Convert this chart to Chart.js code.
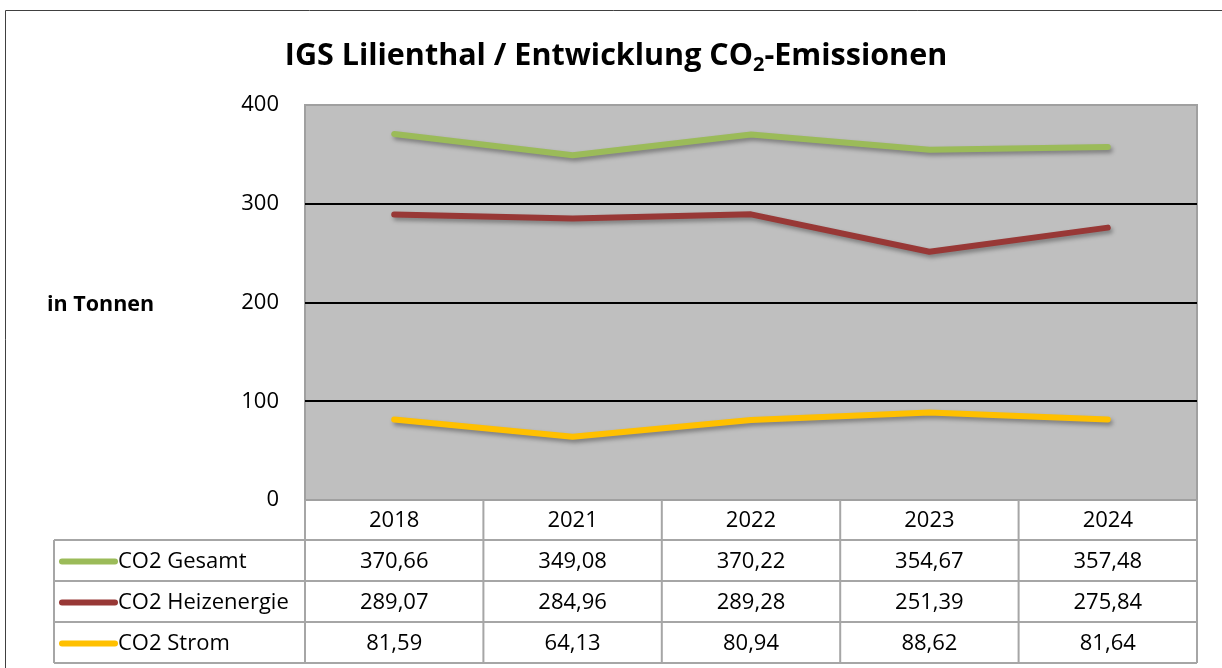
<!DOCTYPE html>
<html>
<head>
<meta charset="utf-8">
<script src="https://cdn.jsdelivr.net/npm/chart.js@4.4.1/dist/chart.umd.min.js"></script>
<style>
  html, body { margin: 0; padding: 0; background: #fff; }
  #wrap { position: relative; width: 1222px; height: 668px; }
</style>
</head>
<body>
<div id="wrap"><canvas id="co2Chart" width="1222" height="668"></canvas></div>
<script>
/* IGS Lilienthal – CO2 per year, values in tonnes */
const years = ['2018', '2021', '2022', '2023', '2024'];
const gesamt = [370.66, 349.08, 370.22, 354.67, 357.48];
const heizenergie = [289.07, 284.96, 289.28, 251.39, 275.84];
const strom = [81.59, 64.13, 80.94, 88.62, 81.64];
const yTicks = [0, 100, 200, 300, 400];

const FONT = '"Open Sans", "Noto Sans", sans-serif';

const seriesNames = ['CO2 Gesamt', 'CO2 Heizenergie', 'CO2 Strom'];
const seriesColors = ['#9BBB59', '#983836', '#FFC000'];
const seriesData = [gesamt, heizenergie, strom];

// frame, title, plot background, y label
const backdrop = {
  id: 'backdrop',
  beforeDraw(chart) {
    const { ctx, chartArea: a } = chart;
    ctx.save();
    ctx.fillStyle = '#fff';
    ctx.fillRect(0, 0, chart.width, chart.height);
    // outer frame
    ctx.strokeStyle = '#404040';
    ctx.lineWidth = 1;
    ctx.beginPath();
    ctx.moveTo(5.5, 668);
    ctx.lineTo(5.5, 10.5);
    ctx.lineTo(1222, 10.5);
    ctx.stroke();
    // plot area
    ctx.fillStyle = '#BFBFBF';
    ctx.fillRect(a.left, a.top, a.right - a.left, a.bottom - a.top);
    ctx.strokeStyle = '#A0A0A0';
    ctx.lineWidth = 2;
    ctx.strokeRect(a.left, a.top, a.right - a.left, a.bottom - a.top);

    // title with subscript 2
    ctx.fillStyle = '#000';
    ctx.textBaseline = 'alphabetic';
    const big = 'bold 30.5px ' + FONT, small = 'bold 20px ' + FONT;
    const p1 = 'IGS Lilienthal / Entwicklung CO', p2 = '2', p3 = '-Emissionen';
    ctx.font = big; const w1 = ctx.measureText(p1).width, w3 = ctx.measureText(p3).width;
    ctx.font = small; const w2 = ctx.measureText(p2).width;
    let x = 616 - (w1 + w2 + w3) / 2;
    const base = 65;
    ctx.font = big; ctx.textAlign = 'left';
    ctx.fillText(p1, x, base); x += w1;
    ctx.font = small; ctx.fillText(p2, x, base + 6); x += w2;
    ctx.font = big; ctx.fillText(p3, x, base);

    // axis title
    ctx.font = 'bold 21.5px ' + FONT;
    ctx.textBaseline = 'middle';
    ctx.fillText('in Tonnen', 47, 305);
    ctx.restore();
  },
  beforeDatasetsDraw(chart) {
    const ctx = chart.ctx;
    ctx.save();
    ctx.shadowColor = 'rgba(0,0,0,0.35)';
    ctx.shadowBlur = 4;
    ctx.shadowOffsetX = 2;
    ctx.shadowOffsetY = 3;
  },
  afterDatasetsDraw(chart) {
    chart.ctx.restore();
  }
};

// Excel-like data table under the plot
const dataTable = {
  id: 'dataTable',
  afterDraw(chart) {
    const { ctx, chartArea: a } = chart;
    const xs = chart.scales.x;
    const colW = (a.right - a.left) / years.length;
    const rowTops = [a.bottom, 540, 581, 622, 663];
    const tableLeft = 54;
    ctx.save();
    ctx.strokeStyle = '#A6A6A6';
    ctx.lineWidth = 2;
    ctx.beginPath();
    for (let r = 1; r < rowTops.length; r++) {
      ctx.moveTo(tableLeft, rowTops[r]);
      ctx.lineTo(a.right, rowTops[r]);
    }
    for (let c = 0; c <= years.length; c++) {
      const x = a.left + c * colW;
      ctx.moveTo(x, a.bottom);
      ctx.lineTo(x, rowTops[4]);
    }
    ctx.moveTo(tableLeft, rowTops[1]);
    ctx.lineTo(tableLeft, rowTops[4]);
    ctx.stroke();

    ctx.fillStyle = '#000';
    ctx.font = '22px ' + FONT;
    ctx.textBaseline = 'middle';
    ctx.textAlign = 'center';
    years.forEach((yr, i) => {
      ctx.fillText(yr, xs.getPixelForValue(i), (rowTops[0] + rowTops[1]) / 2 + 1);
    });
    seriesData.forEach((vals, s) => {
      const cy = (rowTops[s + 1] + rowTops[s + 2]) / 2 + 1;
      vals.forEach((v, i) => {
        ctx.textAlign = 'center';
        ctx.fillText(v.toFixed(2).replace('.', ','), xs.getPixelForValue(i), cy);
      });
      // legend key
      ctx.strokeStyle = seriesColors[s];
      ctx.lineWidth = 6;
      ctx.lineCap = 'round';
      ctx.beginPath();
      ctx.moveTo(62, cy);
      ctx.lineTo(115, cy);
      ctx.stroke();
      ctx.textAlign = 'left';
      ctx.fillText(seriesNames[s], 118, cy);
    });
    ctx.restore();
  }
};

const ctx = document.getElementById('co2Chart').getContext('2d');
new Chart(ctx, {
  type: 'line',
  data: {
    labels: years,
    datasets: seriesNames.map((name, s) => ({
      label: name,
      data: seriesData[s],
      borderColor: seriesColors[s],
      backgroundColor: seriesColors[s],
      borderWidth: 6,
      borderCapStyle: 'round',
      borderJoinStyle: 'round',
      pointRadius: 0,
      tension: 0,
      fill: false
    }))
  },
  options: {
    responsive: false,
    animation: false,
    devicePixelRatio: 1,
    layout: { padding: { top: 105, right: 25, bottom: 168, left: 0 } },
    scales: {
      x: { display: false, offset: true },
      y: {
        min: 0,
        max: 400,
        afterFit(scale) { scale.width = 305; },
        afterBuildTicks(scale) { scale.ticks = yTicks.map(v => ({ value: v })); },
        border: { display: false },
        grid: {
          drawTicks: false,
          lineWidth: 2,
          color: c => (c.tick.value === 0 || c.tick.value === 400) ? 'rgba(0,0,0,0)' : '#000'
        },
        ticks: {
          padding: 26,
          color: '#000',
          font: { family: FONT, size: 22 }
        }
      }
    },
    plugins: {
      legend: { display: false },
      title: { display: false },
      tooltip: { enabled: false }
    }
  },
  plugins: [backdrop, dataTable]
});
</script>
</body>
</html>
